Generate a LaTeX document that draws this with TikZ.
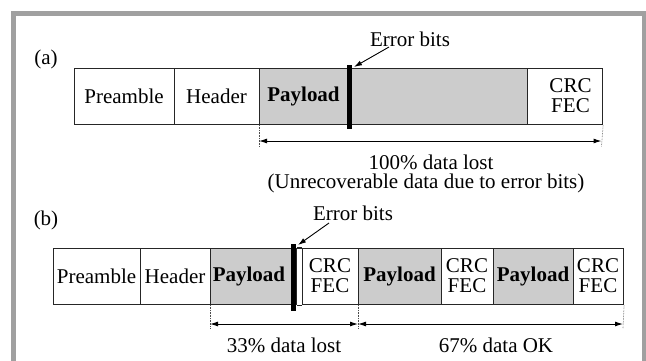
\documentclass[tikz,border=0pt]{standalone}
\usepackage{fontspec}
\setmainfont{Liberation Serif}
\usetikzlibrary{arrows.meta}
\newcommand\diagfont{\fontsize{21}{20}\selectfont}
\definecolor{paygray}{HTML}{CCCCCC}
\definecolor{framegray}{HTML}{A0A0A0}
\tikzset{
  cell/.style={draw=black!85, line width=1.1pt, inner sep=0pt, minimum height=56pt, anchor=north west},
  paycell/.style={cell, fill=paygray},
  lbl/.style={inner sep=0pt, font=\diagfont, align=center},
  boldlbl/.style={lbl, font=\diagfont\bfseries},
  errbar/.style={line width=5pt},
  ptr/.style={line width=0.9pt, -{Latex[length=8pt,width=5pt]}},
  dim/.style={line width=1pt, {Latex[length=8pt,width=5pt]}-{Latex[length=8pt,width=5pt]}},
  guide/.style={line width=0.6pt, densely dotted, black!70},
  frameline/.style={draw=framegray, line width=5pt}
}
\begin{document}
\begin{tikzpicture}[x=1pt,y=-1pt]
\useasboundingbox (0,0) rectangle (646,360);
% frame
\draw[frameline] (13.5,365) -- (13.5,13.5) -- (644,13.5) -- (644,365);

% ---------- (a) ----------
\node[lbl] (la) at (46,59) {(a)};
\node[cell, minimum width=100pt] (pa) at (74,68) {};
\node[cell, minimum width=85pt] (ha) at (174,68) {};
\node[paycell, minimum width=268pt] (ya) at (259,68) {};
\node[cell, minimum width=75pt] (ca) at (527,68) {};
\node[lbl] (pat) at (124,96) {Preamble};
\node[lbl] (hat) at (216.5,96) {Header};
\node[boldlbl] (yat) at (303.5,96) {Payload};
\node[lbl] (cat) at (570.5,96) {CRC\\FEC};
% error bar (a)
\coordinate (ea1) at (349,65);
\coordinate (ea2) at (349,129);
\draw[errbar] (ea1) -- (ea2);
\node[lbl] (eta) at (410,39) {Error bits};
\coordinate (eas) at (389,47);
\coordinate (eae) at (354,67);
\draw[ptr] (eas) -- (eae);
% dimension (a)
\coordinate (ga1) at (259,147);
\coordinate (ga2) at (601.5,147);
\draw[guide] (ya.south west) -- (ga1);
\draw[guide] (ca.south east) -- (ga2);
\coordinate (aa1) at (259,141);
\coordinate (aa2) at (601.5,141);
\draw[dim] (aa1) -- (aa2);
\node[lbl] (lost) at (431,162) {100\% data lost};
\node[lbl] (unrec) at (426,183) {(Unrecoverable data due to error bits)};

% ---------- (b) ----------
\node[lbl] (lb) at (46,220) {(b)};
\node[cell, minimum width=87pt] (pb) at (53,248) {};
\node[cell, minimum width=70pt] (hb) at (140,248) {};
\node[paycell, minimum width=86pt] (yb1) at (210,248) {};
\node[cell, minimum width=56pt] (cb1) at (302,248) {};
\node[paycell, minimum width=83pt] (yb2) at (358,248) {};
\node[cell, minimum width=52pt] (cb2) at (441,248) {};
\node[paycell, minimum width=80pt] (yb3) at (493,248) {};
\node[cell, minimum width=50pt] (cb3) at (573,248) {};
\draw[line width=1.1pt, black!85] (yb1.north east) -- (cb1.north west);
\draw[line width=1.1pt, black!85] (yb1.south east) -- (cb1.south west);
\node[lbl] (pbt) at (96.5,276) {Preamble};
\node[lbl] (hbt) at (175,276) {Header};
\node[boldlbl] (yb1t) at (249,276) {Payload};
\node[lbl] (cb1t) at (330,276) {CRC\\FEC};
\node[boldlbl] (yb2t) at (399.5,276) {Payload};
\node[lbl] (cb2t) at (467,276) {CRC\\FEC};
\node[boldlbl] (yb3t) at (533,276) {Payload};
\node[lbl] (cb3t) at (598,276) {CRC\\FEC};
% error bar (b)
\coordinate (eb1) at (293.5,244);
\coordinate (eb2) at (293.5,311);
\draw[errbar] (eb1) -- (eb2);
\node[lbl] (etb) at (353,213) {Error bits};
\coordinate (ebs) at (329,223);
\coordinate (ebe) at (298,245);
\draw[ptr] (ebs) -- (ebe);
% dimensions (b)
\coordinate (gb1) at (210,328);
\coordinate (gb2) at (358,328);
\coordinate (gb3) at (623,328);
\draw[guide] (yb1.south west) -- (gb1);
\draw[guide] (yb2.south west) -- (gb2);
\draw[guide] (cb3.south east) -- (gb3);
\coordinate (ab1) at (210,324);
\coordinate (ab2) at (358,324);
\coordinate (ab3) at (623,324);
\draw[dim] (ab1) -- (ab2);
\draw[dim] (ab2) -- (ab3);
\node[lbl] (lost33) at (284,345) {33\% data lost};
\node[lbl] (ok67) at (496,345) {67\% data OK};
\end{tikzpicture}
\end{document}
